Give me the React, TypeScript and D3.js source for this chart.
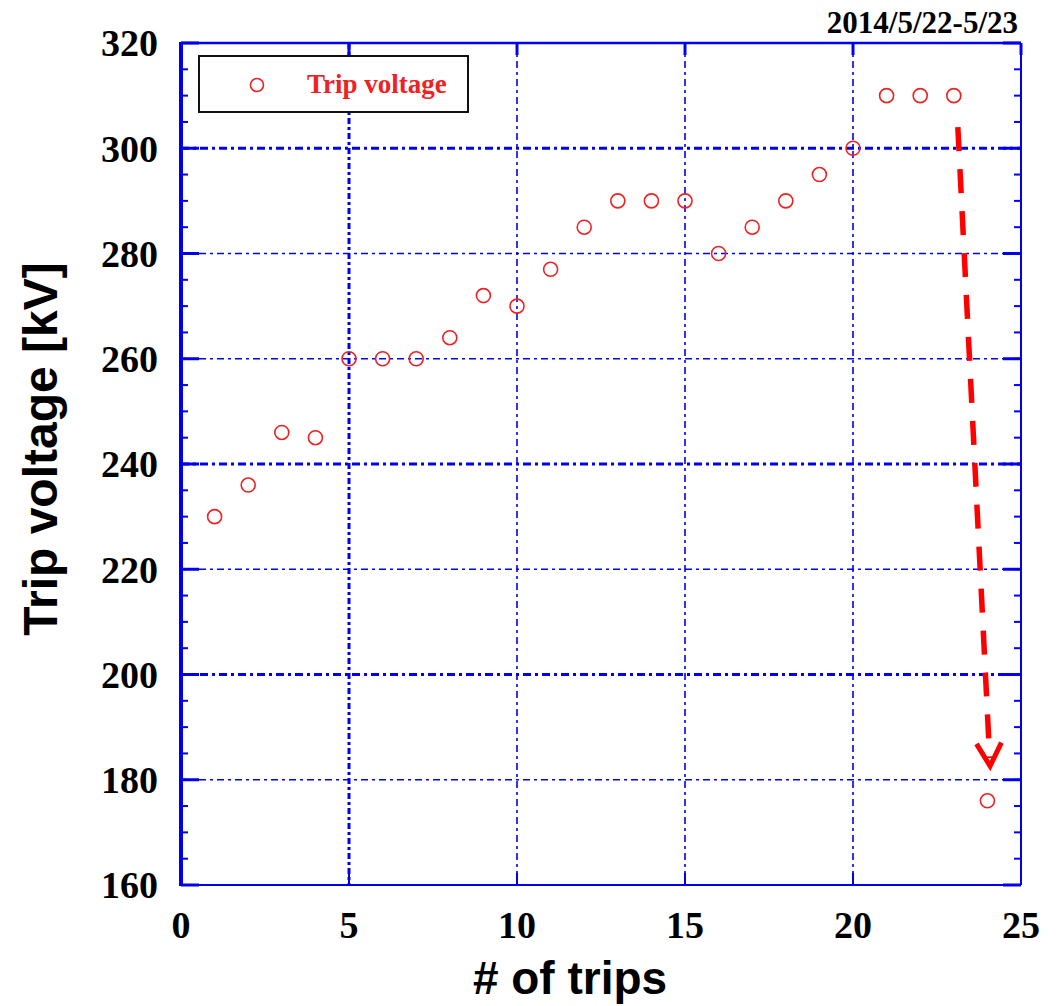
import React from "react";
import * as d3 from "d3";

const trips = [1, 2, 3, 4, 5, 6, 7, 8, 9, 10, 11, 12, 13, 14, 15, 16, 17, 18, 19, 20, 21, 22, 23, 24];
const voltages = [230, 236, 246, 245, 260, 260, 260, 264, 272, 270, 277, 285, 290, 290, 290, 280, 285, 290, 295, 300, 310, 310, 310, 176];
const xTicks = [0, 5, 10, 15, 20, 25];
const yTicks = [160, 180, 200, 220, 240, 260, 280, 300, 320];
const xGridStrong = [5];
const xGridLight = [10, 15, 20];
const yGridStrong = [200, 240, 300];
const yGridLight = [180, 220, 260, 280];
const yMinor = d3.range(160, 321, 5);
const arrowFrom = { trip: 23.12, kv: 304 };
const arrowTo = { trip: 24.08, kv: 182.6 };

const W = 1060;
const H = 1006;
const left = 181;
const right = 1021;
const top = 43;
const bottom = 885;

const serif = "'Liberation Serif', 'Times New Roman', serif";
const sans = "'Liberation Sans', Arial, sans-serif";
const blue = "#0000ee";
const red = "#ee2222";

export default function App() {
  const x = d3.scaleLinear().domain([0, 25]).range([left, right]);
  const y = d3.scaleLinear().domain([160, 320]).range([bottom, top]);

  const ax1 = x(arrowFrom.trip);
  const ay1 = y(arrowFrom.kv);
  const ax2 = x(arrowTo.trip);
  const ay2 = y(arrowTo.kv);
  const ang = Math.atan2(ay2 - ay1, ax2 - ax1);
  const headLen = 26;
  const headSpread = 0.5;
  const h1 = [ax2 - headLen * Math.cos(ang - headSpread), ay2 - headLen * Math.sin(ang - headSpread)];
  const h2 = [ax2 - headLen * Math.cos(ang + headSpread), ay2 - headLen * Math.sin(ang + headSpread)];

  return (
    <svg width={W} height={H} style={{ position: "absolute", left: 0, top: 0, background: "#fff" }}>
      {/* grid lines */}
      {yGridLight.map((v) => (
        <line key={"yl" + v} x1={left} x2={right} y1={y(v)} y2={y(v)} stroke={blue} strokeWidth={1.6} strokeDasharray="7 4 3 4" />
      ))}
      {yGridStrong.map((v) => (
        <line key={"ys" + v} x1={left} x2={right} y1={y(v)} y2={y(v)} stroke={blue} strokeWidth={3} strokeDasharray="8 4 3 4" />
      ))}
      {xGridLight.map((v) => (
        <line key={"xl" + v} x1={x(v)} x2={x(v)} y1={top} y2={bottom} stroke={blue} strokeWidth={1.6} strokeDasharray="7 4 3 4" />
      ))}
      {xGridStrong.map((v) => (
        <line key={"xs" + v} x1={x(v)} x2={x(v)} y1={top} y2={bottom} stroke={blue} strokeWidth={3} strokeDasharray="6 3 3 3" />
      ))}

      {/* minor ticks on left and right axes */}
      {yMinor.map((v) => (
        <g key={"m" + v}>
          <line x1={left} x2={left + 7} y1={y(v)} y2={y(v)} stroke={blue} strokeWidth={2} />
          <line x1={right} x2={right - 7} y1={y(v)} y2={y(v)} stroke={blue} strokeWidth={2} />
        </g>
      ))}
      {yTicks.map((v) => (
        <g key={"M" + v}>
          <line x1={left} x2={left + 18} y1={y(v)} y2={y(v)} stroke={blue} strokeWidth={3} />
          <line x1={right} x2={right - 18} y1={y(v)} y2={y(v)} stroke={blue} strokeWidth={3} />
        </g>
      ))}
      {xTicks.map((v) => (
        <g key={"X" + v}>
          <line x1={x(v)} x2={x(v)} y1={bottom} y2={bottom - 12} stroke={blue} strokeWidth={2} />
          <line x1={x(v)} x2={x(v)} y1={top} y2={top + 12} stroke={blue} strokeWidth={3} />
        </g>
      ))}

      {/* frame */}
      <line x1={left} x2={right} y1={top} y2={top} stroke={blue} strokeWidth={2.5} />
      <line x1={left} x2={right} y1={bottom} y2={bottom} stroke={blue} strokeWidth={2} />
      <line x1={right} x2={right} y1={top} y2={bottom} stroke={blue} strokeWidth={2} />
      <line x1={left} x2={left} y1={top - 1} y2={bottom + 1} stroke={blue} strokeWidth={4} />

      {/* tick labels */}
      {yTicks.map((v) => (
        <text key={"yt" + v} x={158} y={y(v)} dy="0.35em" textAnchor="end" fontFamily={serif} fontWeight="bold" fontSize={38} fill="#000">
          {v}
        </text>
      ))}
      {xTicks.map((v) => (
        <text key={"xt" + v} x={x(v)} y={938} textAnchor="middle" fontFamily={serif} fontWeight="bold" fontSize={38} fill="#000">
          {v}
        </text>
      ))}

      {/* axis titles */}
      <text x={570} y={994} textAnchor="middle" fontFamily={sans} fontWeight="bold" fontSize={46} fill="#000">
        # of trips
      </text>
      <text transform={`translate(57,449) rotate(-90)`} textAnchor="middle" fontFamily={sans} fontWeight="bold" fontSize={48} fill="#000">
        Trip voltage [kV]
      </text>
      <text x={1018} y={33} textAnchor="end" fontFamily={serif} fontWeight="bold" fontSize={31} fill="#000">
        2014/5/22-5/23
      </text>

      {/* legend */}
      <rect x={199} y={56} width={269} height={56} fill="#fff" stroke="#111" strokeWidth={2} />
      <circle cx={257} cy={85} r={6.5} fill="none" stroke={red} strokeWidth={1.6} />
      <text x={307} y={93} fontFamily={serif} fontWeight="bold" fontSize={27} fill={red}>
        Trip voltage
      </text>

      {/* data points */}
      {trips.map((t, i) => (
        <circle key={"p" + t} cx={x(t)} cy={y(voltages[i])} r={7} fill="none" stroke={red} strokeWidth={1.6} />
      ))}

      {/* arrow */}
      <line x1={ax1} y1={ay1} x2={ax2 - 8 * Math.cos(ang)} y2={ay2 - 8 * Math.sin(ang)} stroke="#ff0000" strokeWidth={5.5} strokeDasharray="24 18" />
      <polyline points={`${h1[0]},${h1[1]} ${ax2},${ay2} ${h2[0]},${h2[1]}`} fill="none" stroke="#ff0000" strokeWidth={5} strokeLinejoin="miter" />
    </svg>
  );
}
